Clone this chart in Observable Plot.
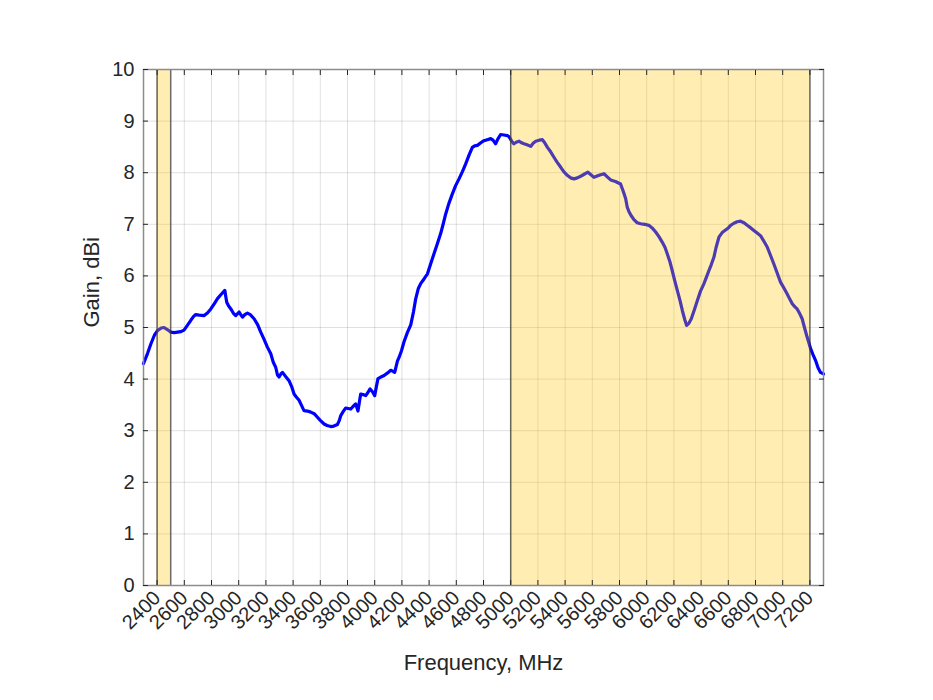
<!DOCTYPE html>
<html><head><meta charset="utf-8">
<script src="https://cdn.jsdelivr.net/npm/d3@7"></script>
<script src="https://cdn.jsdelivr.net/npm/@observablehq/plot@0.6"></script>
<style>
body{margin:0;background:#fff;}
#chart svg{display:block;}
</style>
</head><body><div id="chart"></div>
<script>
const freq = [2300,2330,2354,2380,2403,2430,2451,2475,2501,2525,2550,2575,2598,2625,2648,2670,2684,2710,2745,2770,2795,2820,2844,2870,2898,2905,2912,2925,2942,2960,2978,3003,3015,3028,3045,3064,3085,3113,3140,3162,3185,3211,3236,3255,3272,3285,3297,3310,3322,3345,3370,3390,3407,3425,3444,3460,3480,3505,3530,3555,3579,3600,3628,3650,3677,3700,3726,3740,3750,3770,3787,3805,3824,3845,3860,3877,3890,3897,3915,3934,3950,3966,3985,4000,4012,4024,4045,4069,4095,4118,4135,4147,4167,4179,4197,4215,4240,4265,4285,4301,4320,4338,4365,4388,4410,4436,4460,4485,4505,4522,4545,4571,4595,4620,4645,4669,4695,4718,4735,4755,4780,4803,4828,4853,4870,4889,4905,4926,4950,4975,4990,5010,5024,5040,5061,5080,5098,5120,5147,5165,5184,5210,5233,5250,5270,5295,5318,5342,5367,5390,5416,5440,5465,5490,5514,5540,5568,5590,5612,5650,5686,5710,5735,5770,5808,5830,5845,5857,5869,5885,5906,5930,5955,5985,6016,6040,6066,6090,6115,6135,6151,6170,6188,6205,6225,6245,6262,6280,6294,6310,6328,6350,6372,6395,6421,6440,6457,6475,6494,6510,6531,6555,6580,6600,6617,6641,6665,6690,6715,6739,6765,6788,6812,6837,6860,6886,6910,6935,6960,6984,7010,7033,7050,7070,7090,7106,7125,7143,7160,7180,7193,7205,7222,7242,7260,7278,7300];
const gain = [4.30,4.50,4.68,4.85,4.94,4.99,5.00,4.96,4.91,4.90,4.91,4.92,4.95,5.05,5.14,5.22,5.25,5.24,5.23,5.28,5.36,5.46,5.56,5.64,5.72,5.60,5.49,5.42,5.36,5.28,5.23,5.30,5.25,5.20,5.25,5.28,5.25,5.17,5.05,4.91,4.78,4.62,4.49,4.32,4.23,4.08,4.04,4.10,4.13,4.05,3.97,3.85,3.71,3.65,3.59,3.50,3.39,3.38,3.36,3.33,3.26,3.20,3.13,3.10,3.08,3.09,3.12,3.20,3.29,3.38,3.44,3.43,3.42,3.48,3.52,3.38,3.60,3.71,3.70,3.68,3.74,3.81,3.75,3.68,3.85,4.01,4.04,4.07,4.12,4.17,4.15,4.13,4.35,4.42,4.55,4.72,4.90,5.05,5.30,5.55,5.75,5.85,5.95,6.04,6.22,6.43,6.62,6.82,7.02,7.20,7.40,7.59,7.75,7.88,8.02,8.17,8.35,8.49,8.52,8.53,8.58,8.62,8.64,8.66,8.63,8.56,8.65,8.74,8.73,8.72,8.69,8.60,8.56,8.59,8.61,8.58,8.56,8.54,8.51,8.57,8.61,8.63,8.64,8.58,8.49,8.40,8.30,8.20,8.11,8.02,7.95,7.90,7.88,7.90,7.93,7.97,8.01,7.96,7.91,7.95,7.98,7.92,7.86,7.83,7.78,7.62,7.50,7.33,7.25,7.17,7.09,7.03,7.01,7.00,6.98,6.93,6.85,6.76,6.65,6.55,6.43,6.28,6.10,5.92,5.72,5.52,5.33,5.15,5.04,5.08,5.17,5.34,5.52,5.70,5.85,5.98,6.10,6.22,6.36,6.55,6.75,6.84,6.89,6.93,6.98,7.02,7.05,7.06,7.03,6.98,6.93,6.88,6.83,6.78,6.68,6.56,6.40,6.23,6.05,5.88,5.76,5.65,5.56,5.46,5.40,5.36,5.27,5.17,5.00,4.81,4.70,4.59,4.48,4.36,4.22,4.13,4.10];
const xTicks = [2400,2600,2800,3000,3200,3400,3600,3800,4000,4200,4400,4600,4800,5000,5200,5400,5600,5800,6000,6200,6400,6600,6800,7000,7200];
const yTicks = [0,1,2,3,4,5,6,7,8,9,10];
const bandStart = [2400, 5000];
const bandEnd = [2500, 7200];
const xDomain = [2300, 7300];
const yDomain = [0, 10];
const xLabel = "Frequency, MHz";
const yLabel = "Gain, dBi";

const points = freq.map((f, i) => ({f, g: gain[i]}));
const bands = bandStart.map((s, i) => ({s, e: bandEnd[i]}));
const edges = bandStart.concat(bandEnd);

const font = "'Liberation Sans', Arial, sans-serif";
const txt = "#262626";

const chart = Plot.plot({
  width: 933,
  height: 700,
  marginLeft: 143,
  marginRight: 110,
  marginTop: 69,
  marginBottom: 115,
  style: {fontFamily: font, fontSize: "20px", color: txt, background: "#fff"},
  x: {domain: xDomain, ticks: xTicks},
  y: {domain: yDomain, ticks: yTicks},
  marks: [
    Plot.gridX(xTicks, {stroke: "#262626", strokeOpacity: 0.14, strokeWidth: 1}),
    Plot.gridY(yTicks, {stroke: "#262626", strokeOpacity: 0.14, strokeWidth: 1}),
    Plot.line(points, {x: "f", y: "g", stroke: "#0000ff", strokeWidth: 3.2, strokeLinejoin: "round", curve: "linear"}),
    Plot.rect(bands, {x1: "s", x2: "e", fill: "#ffc400", fillOpacity: 0.3}),
    Plot.ruleX(edges, {stroke: "#3a3a3a", strokeWidth: 1.5, strokeOpacity: 0.75}),
    Plot.frame({stroke: "#8c8c8c", strokeWidth: 1.5}),
    Plot.axisX(xTicks, {anchor: "bottom", tickSize: -5, tickFormat: () => "", label: null, stroke: "#262626"}),
    Plot.axisX(xTicks, {anchor: "top", tickSize: -5, tickFormat: () => "", label: null, stroke: "#262626"}),
    Plot.axisY(yTicks, {anchor: "left", tickSize: -5, tickFormat: () => "", label: null, stroke: "#262626"}),
    Plot.axisY(yTicks, {anchor: "right", tickSize: -5, tickFormat: () => "", label: null, stroke: "#262626"}),
    Plot.axisX(xTicks, {anchor: "bottom", tickSize: 0, tickPadding: 9, tickRotate: -45, fontSize: 20, fill: txt,
      tickFormat: d => String(d), label: null}),
    Plot.axisY(yTicks, {anchor: "left", tickSize: 0, tickPadding: 9, fontSize: 20, fill: txt,
      tickFormat: d => String(d), label: null}),
    Plot.text([xLabel], {text: d => d, frameAnchor: "bottom", dy: 77, fontSize: 22, fill: txt, lineAnchor: "middle"}),
    Plot.text([yLabel], {text: d => d, frameAnchor: "left", dx: -52, rotate: -90, fontSize: 22, fill: txt, lineAnchor: "middle"})
  ]
});
document.getElementById("chart").appendChild(chart);
</script>
</body></html>
